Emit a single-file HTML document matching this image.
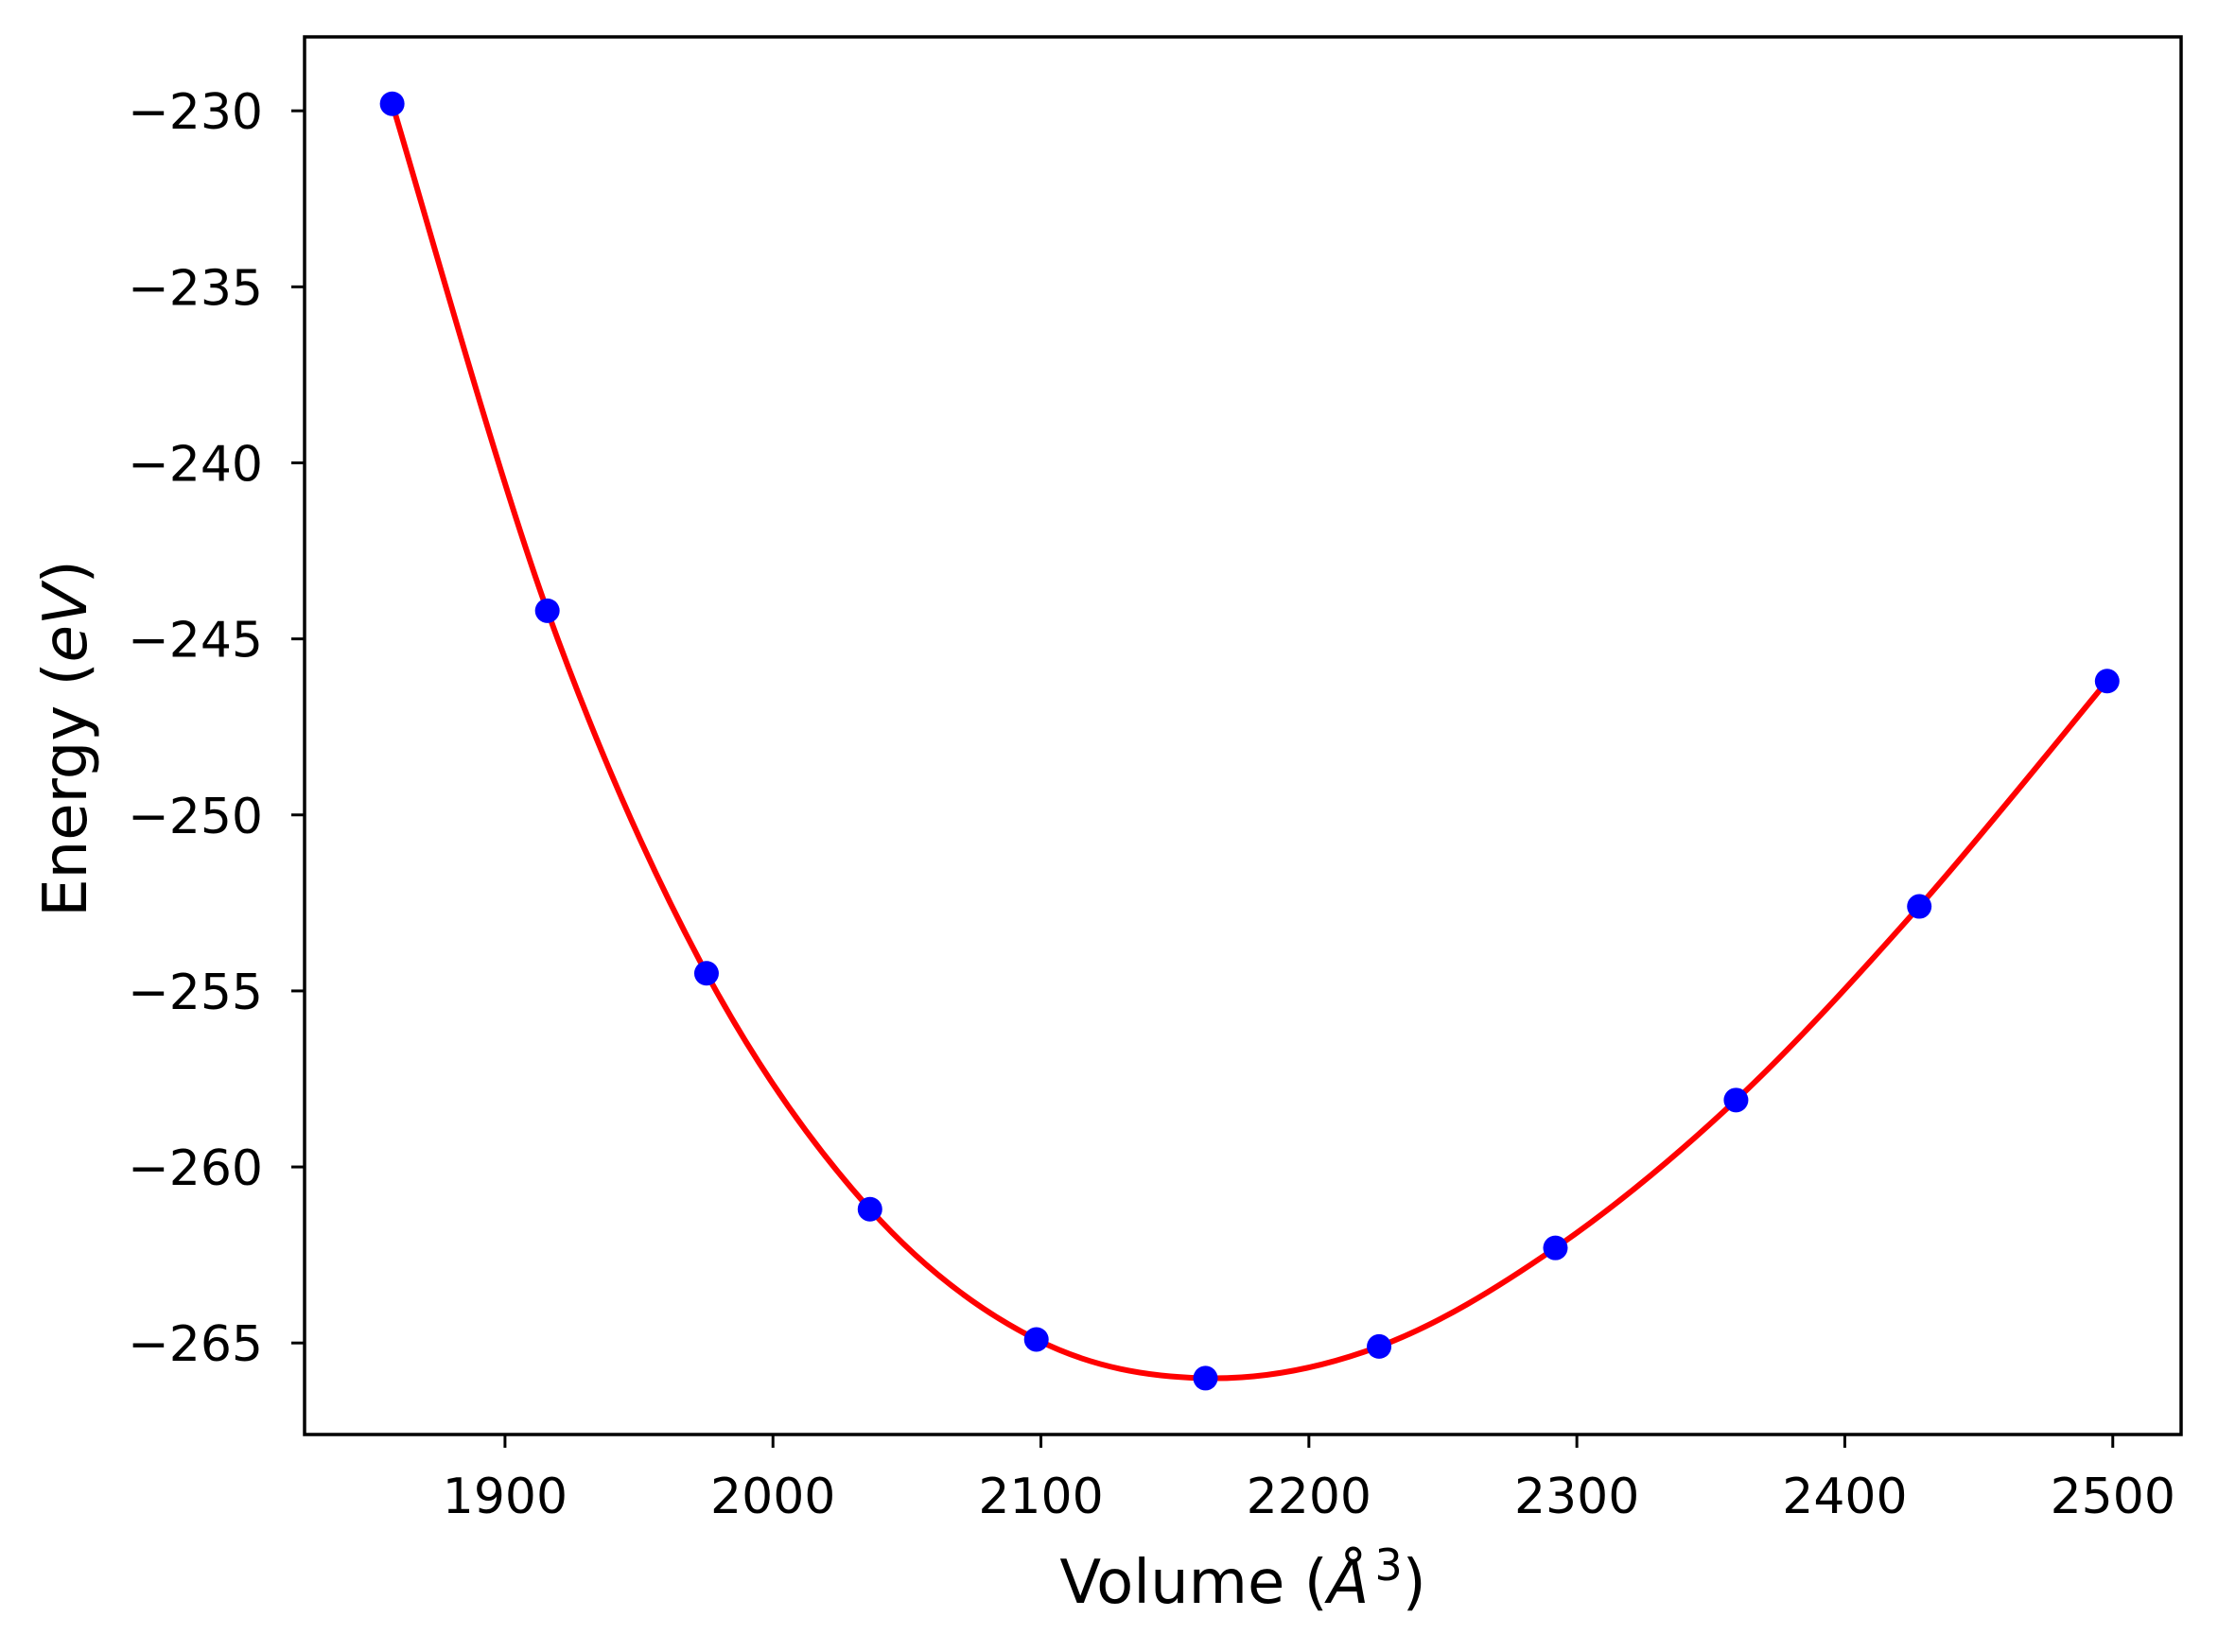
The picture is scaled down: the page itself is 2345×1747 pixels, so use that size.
<!DOCTYPE html>
<html><head><meta charset="utf-8"><style>
html,body{margin:0;padding:0;background:#fff;}
svg{display:block;font-family:"DejaVu Sans","Liberation Sans",sans-serif;}
</style></head><body>
<svg id="chart" width="2345" height="1747" viewBox="0 0 2345 1747" xmlns="http://www.w3.org/2000/svg">
<rect x="0" y="0" width="2345" height="1747" fill="#fff"/>
<g id="grid"></g>
<g id="marks"></g>
<text x="1314" y="1695" font-size="64" text-anchor="middle">Volume (<tspan font-style="italic">Å</tspan><tspan dx="6" dy="-24" font-size="46">3</tspan><tspan dy="24">)</tspan></text>
<text transform="translate(91,781) rotate(-90)" font-size="64" text-anchor="middle">Energy (<tspan font-style="italic">eV</tspan>)</text>
</svg>
<script>
const volumes = [1857.9, 1915.8, 1975.2, 2036.2, 2098.3, 2161.4, 2226.2, 2292.0, 2359.4, 2427.8, 2497.9];
const energies = [-229.8, -244.2, -254.5, -261.2, -264.9, -266.0, -265.1, -262.3, -258.1, -252.6, -246.2];
const xTicks = [1900, 2000, 2100, 2200, 2300, 2400, 2500];
const yTicks = [-230, -235, -240, -245, -250, -255, -260, -265];

const L=322, R=2306, T=39, B=1517;
const xMin=1825.2, xMax=2525.5, yMin=-267.6, yMax=-227.9;
const sx = v => L + (v - xMin) / (xMax - xMin) * (R - L);
const sy = v => B - (v - yMin) / (yMax - yMin) * (B - T);
const NS = "http://www.w3.org/2000/svg";
const axes = document.getElementById('grid');
const marks = document.getElementById('marks');
function mk(tag, attrs, parent){ const e=document.createElementNS(NS,tag); for(const k in attrs) e.setAttribute(k,attrs[k]); parent.appendChild(e); return e; }

xTicks.forEach(v=>{
  const x=sx(v);
  const t=mk('line',{x1:x,x2:x,y1:B,y2:B+14,stroke:'#000','stroke-width':3},axes);
  
  
  const lb=mk('text',{x:x,y:1600,'font-size':52,'text-anchor':'middle'},axes);
  lb.textContent=String(v);
  
  
});
yTicks.forEach(v=>{
  const y=sy(v);
  const t=mk('line',{x1:L-14,x2:L,y1:y,y2:y,stroke:'#000','stroke-width':3},axes);
  
  
  const lb=mk('text',{x:L-44,y:y+19,'font-size':52,'text-anchor':'end'},axes);
  lb.textContent='\u2212'+String(Math.abs(v));
  
  
});

// fitted curve: smooth Catmull-Rom through data points
const P = volumes.map((v,i)=>[sx(v), sy(energies[i])]);
let d = 'M'+P[0][0]+','+P[0][1];
for(let i=0;i<P.length-1;i++){
  const p0=P[Math.max(i-1,0)], p1=P[i], p2=P[i+1], p3=P[Math.min(i+2,P.length-1)];
  const c1=[p1[0]+(p2[0]-p0[0])/6, p1[1]+(p2[1]-p0[1])/6];
  const c2=[p2[0]-(p3[0]-p1[0])/6, p2[1]-(p3[1]-p1[1])/6];
  d+=' C'+c1[0]+','+c1[1]+' '+c2[0]+','+c2[1]+' '+p2[0]+','+p2[1];
}
const curve=mk('path',{d:d,fill:'none',stroke:'#ff0000','stroke-width':6},marks);



P.forEach(p=>{
  const c=mk('circle',{cx:p[0],cy:p[1],r:13,fill:'#0000ff'},marks);
  
  
});

const frame=mk('rect',{x:L,y:T,width:R-L,height:B-T,fill:'none',stroke:'#000','stroke-width':3.5},axes);


</script>
</body></html>
